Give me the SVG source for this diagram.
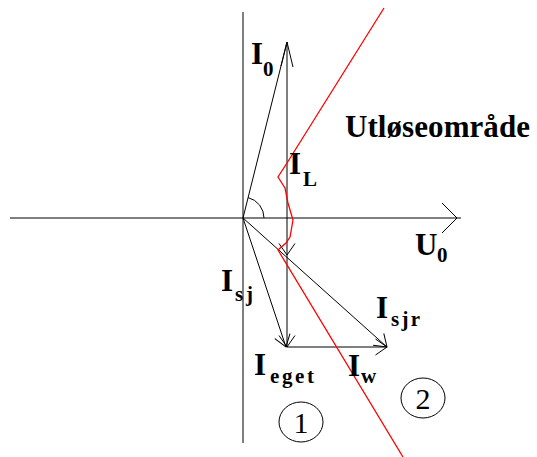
<svg xmlns="http://www.w3.org/2000/svg" width="537" height="457" viewBox="0 0 537 457">
  <style>
    .ln { stroke: #000; stroke-width: 1; fill: none; }
    .red { stroke: #ff0000; stroke-width: 1.3; fill: none; }
    .big { font-family: "Liberation Serif", "Times New Roman", serif; font-weight: bold; font-size: 31px; fill: #000; }
    .sub { font-family: "Liberation Serif", "Times New Roman", serif; font-weight: bold; font-size: 21px; fill: #000; }
    .num { font-family: "Liberation Serif", "Times New Roman", serif; font-size: 30px; fill: #000; text-anchor: middle; }
  </style>
  <defs>
    <marker id="arr" markerUnits="userSpaceOnUse" viewBox="-15 -10 16 20" markerWidth="16" markerHeight="20" refX="0" refY="0" orient="auto" overflow="visible">
      <path d="M -11.5 -8 L 0 0 L -11.5 8" fill="none" stroke="#000" stroke-width="1"/>
    </marker>
  </defs>

  <g id="axes">
    <line class="ln" x1="243" y1="12" x2="243" y2="443"/>
    <line class="ln" x1="10" y1="218" x2="461" y2="218"/>
    <path class="ln" d="M 442 203 L 457 218 L 442 233"/>
  </g>

  <g id="connectors">
    <line class="ln" x1="243" y1="218" x2="287" y2="42"/>
    <path class="ln" d="M 281 66 L 287 42 L 293 67"/>
    <line class="ln" x1="287" y1="42" x2="287" y2="255" marker-end="url(#arr)"/>
    <line class="ln" x1="287" y1="255" x2="287" y2="347" marker-end="url(#arr)"/>
    <line class="ln" x1="243" y1="218" x2="286" y2="347" marker-end="url(#arr)"/>
    <line class="ln" x1="243" y1="218" x2="387" y2="347" marker-end="url(#arr)"/>
    <line class="ln" x1="287" y1="347" x2="387" y2="347" marker-end="url(#arr)"/>
    <path class="ln" d="M 248.1 197.6 A 21 21 0 0 1 264 218"/>
  </g>

  <g id="boundary">
    <polyline class="red" points="384,8 287,163 278,177 285,188 288,203 293,220 290,237 286,243 278,250 403,457"/>
  </g>

  <g id="labels">
    <g id="label-I0"><text class="big" x="251" y="64">I</text><text class="sub" x="263" y="76">0</text></g>
    <g id="label-IL"><text class="big" x="289" y="174">I</text><text class="sub" x="303" y="186">L</text></g>
    <g id="label-U0"><text class="big" x="415" y="255">U</text><text class="sub" x="437" y="262">0</text></g>
    <g id="label-Isj"><text class="big" x="221" y="291">I</text><text class="sub" x="235" y="301" textLength="18">sj</text></g>
    <g id="label-Isjr"><text class="big" x="376" y="318">I</text><text class="sub" x="391" y="326" textLength="29">sjr</text></g>
    <g id="label-Ieget"><text class="big" x="254" y="375">I</text><text class="sub" x="270" y="383" textLength="44">eget</text></g>
    <g id="label-Iw"><text class="big" x="348" y="376">I</text><text class="sub" x="361" y="383">w</text></g>
    <g id="label-area"><text class="big" x="345" y="137" textLength="185">Utløseområde</text></g>
  </g>

  <g id="region-1">
    <ellipse class="ln" cx="301" cy="422" rx="22" ry="20"/>
    <text class="num" x="301" y="433">1</text>
  </g>
  <g id="region-2">
    <ellipse class="ln" cx="423" cy="398" rx="22" ry="20"/>
    <text class="num" x="423" y="409">2</text>
  </g>
</svg>
